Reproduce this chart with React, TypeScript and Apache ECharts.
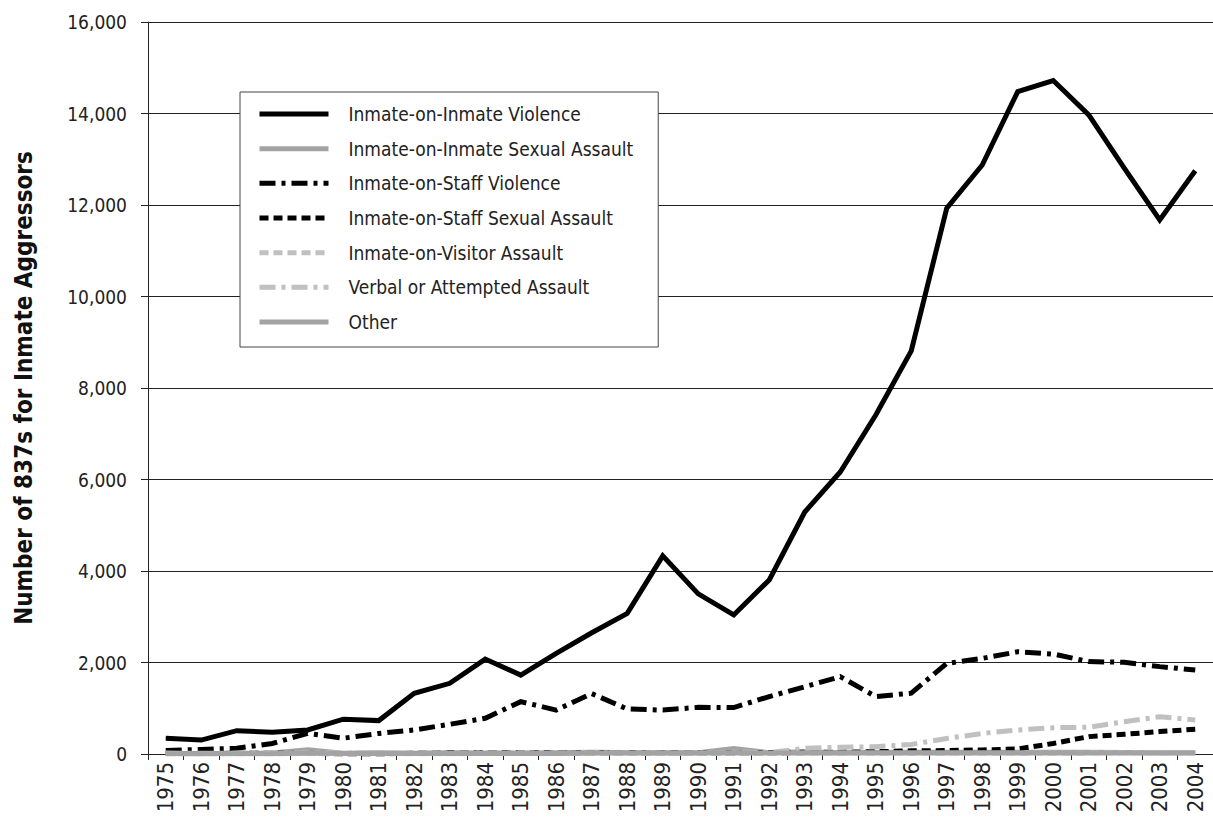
import React, { useEffect, useRef } from "react";
import * as echarts from "echarts";

const years = ["1975","1976","1977","1978","1979","1980","1981","1982","1983","1984","1985","1986","1987","1988","1989","1990","1991","1992","1993","1994","1995","1996","1997","1998","1999","2000","2001","2002","2003","2004"];

const inmateViolence = [345,305,510,475,525,760,730,1325,1545,2075,1725,2200,2650,3075,4330,3500,3040,3805,5290,6165,7410,8810,11930,12875,14480,14720,13970,12805,11675,12750];
const inmateSexual = [10,5,15,20,90,15,25,15,30,20,20,25,40,35,30,30,120,30,50,30,40,40,40,40,40,40,40,35,30,30];
const staffViolence = [75,100,125,230,450,345,450,525,650,780,1145,960,1320,985,960,1020,1015,1255,1470,1690,1255,1330,1980,2090,2235,2185,2020,2005,1910,1835];
const staffSexual = [10,10,15,15,15,0,0,15,20,20,20,20,25,25,20,20,20,30,40,40,50,70,75,90,110,230,380,430,490,540];
const visitorAssault = [5,5,5,5,10,5,5,5,5,10,10,10,10,10,10,10,10,10,20,20,20,20,20,20,20,20,25,25,30,30];
const verbalAssault = [20,15,20,20,30,20,20,15,20,20,20,20,30,30,20,20,40,30,124,146,160,210,340,450,525,575,585,705,815,745];
const other = [5,5,5,5,20,10,10,10,10,10,10,10,20,20,20,20,30,20,20,20,20,20,20,20,20,20,20,20,20,20];

const yTicks = [0, 2000, 4000, 6000, 8000, 10000, 12000, 14000, 16000];

const FONT = "'DejaVu Sans Condensed', 'DejaVu Sans', sans-serif";
const BLACK = "#000000";
const MID = "#a3a3a3";
const LIGHT = "#c0c0c0";

export default function App() {
  const ref = useRef<HTMLDivElement>(null);
  useEffect(() => {
    if (!ref.current) return;
    const chart = echarts.init(ref.current, undefined, { renderer: "svg" });
    const mk = (name: string, data: number[], color: string, type: any) => ({
      name,
      type: "line",
      data,
      symbol: "none",
      showSymbol: false,
      lineStyle: { color, width: 5, type, cap: "butt", join: "miter" },
      itemStyle: { color },
      emphasis: { disabled: true },
    });
    chart.setOption({
      animation: false,
      textStyle: { fontFamily: FONT },
      grid: { left: 148, top: 22, width: 1068, height: 732, containLabel: false },
      legend: {
        orient: "vertical",
        left: 240,
        top: 92,
        backgroundColor: "#ffffff",
        borderColor: "#444444",
        borderWidth: 1,
        borderRadius: 0,
        padding: [12.5, 25, 15.5, 17],
        itemWidth: 69,
        itemHeight: 14,
        itemGap: 15.67,
        selectedMode: false,
        itemStyle: { opacity: 0 },
        lineStyle: { width: 5, cap: "butt" },
        textStyle: { fontFamily: FONT, fontSize: 19, color: "#222222", padding: [0, 0, 0, 15] },
        data: [
          "Inmate-on-Inmate Violence",
          "Inmate-on-Inmate Sexual Assault",
          "Inmate-on-Staff Violence",
          "Inmate-on-Staff Sexual Assault",
          "Inmate-on-Visitor Assault",
          "Verbal or Attempted Assault",
          "Other",
        ],
      },
      xAxis: {
        type: "category",
        data: years,
        boundaryGap: true,
        axisLine: { show: true, onZero: true, lineStyle: { color: "#222222", width: 1 } },
        axisTick: { show: true, length: 6, lineStyle: { color: "#222222" } },
        axisLabel: { rotate: 90, fontSize: 22, color: "#222222", margin: 8, fontFamily: FONT, interval: 0 },
        splitLine: { show: false },
      },
      yAxis: {
        type: "value",
        min: yTicks[0],
        max: yTicks[yTicks.length - 1],
        interval: 2000,
        name: "Number of 837s for Inmate Aggressors",
        nameLocation: "middle",
        nameRotate: 90,
        nameGap: 112,
        nameTextStyle: { fontFamily: FONT, fontSize: 24, fontWeight: "bold", color: "#111111" },
        axisLine: { show: true, lineStyle: { color: "#222222", width: 1 } },
        axisTick: { show: true, length: 7, lineStyle: { color: "#222222" } },
        axisLabel: {
          fontSize: 19,
          color: "#222222",
          margin: 21,
          fontFamily: FONT,
          formatter: (v: number) => v.toLocaleString("en-US"),
        },
        splitLine: { show: true, lineStyle: { color: "#222222", width: 1 } },
      },
      series: [
        mk("Inmate-on-Inmate Violence", inmateViolence, BLACK, "solid"),
        mk("Inmate-on-Inmate Sexual Assault", inmateSexual, MID, "solid"),
        mk("Inmate-on-Staff Violence", staffViolence, BLACK, [16, 6, 4, 6]),
        mk("Inmate-on-Staff Sexual Assault", staffSexual, BLACK, [9, 5]),
        mk("Inmate-on-Visitor Assault", visitorAssault, LIGHT, [9, 5]),
        mk("Verbal or Attempted Assault", verbalAssault, LIGHT, [16, 6, 4, 6]),
        mk("Other", other, MID, "solid"),
      ],
    });
    return () => chart.dispose();
  }, []);
  return (
    <div
      ref={ref}
      style={{ position: "absolute", left: 0, top: 0, width: 1213, height: 817, background: "#ffffff" }}
    />
  );
}
